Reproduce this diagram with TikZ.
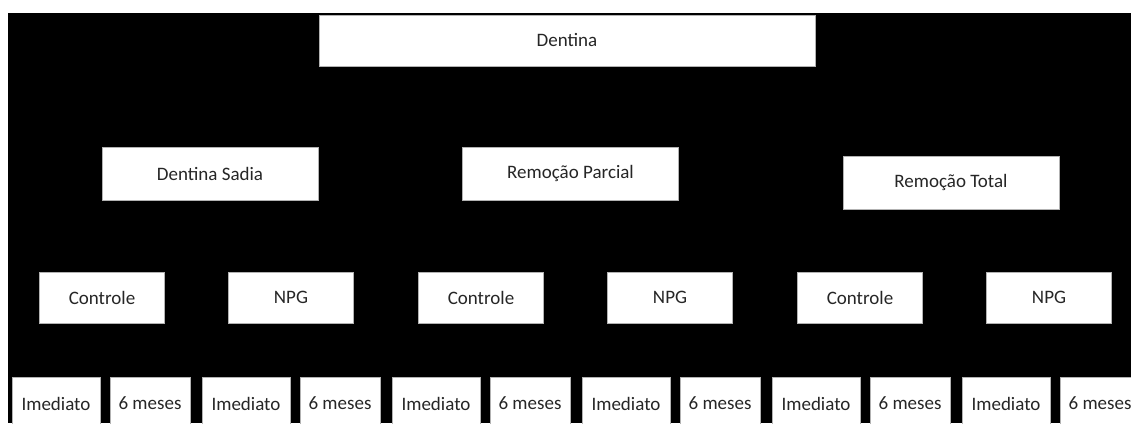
\documentclass[tikz,border=0pt]{standalone}
\usepackage{fontspec}
\setmainfont{Carlito}
\tikzset{
    box/.style = {draw=gray!60, fill=white, rectangle, text=black!85,
        font=\fontsize{19}{22}\selectfont, inner sep=0pt},
    topbox/.style = {box, minimum width=496pt, minimum height=51pt},
    groupbox/.style = {box, minimum width=216pt, minimum height=53pt},
    armbox/.style = {box, minimum width=125pt, minimum height=51pt},
    timebox/.style = {box, minimum height=53pt}
}

\begin{document}
\begin{tikzpicture}[x=1pt,y=-1pt]
        \useasboundingbox (0,0) rectangle (1131,423);
        \fill[black] (8,13) rectangle (1131,423);
        % top
        \node[topbox] (dentina) at (567,40.5) {Dentina};
        % groups
        \node[groupbox] (sadia) at (210,173.5) {Dentina Sadia};
        \node[groupbox] (parcial) at (570.5,173.5) {Remoção Parcial};
        \node[groupbox] (total) at (951,182.5) {Remoção Total};
        % treatments
        \foreach \i in {0,1,2}{
            \node[armbox] (ctrl\i) at ({102+379*\i},297.5) {Controle};
            \node[armbox] (npg\i) at ({291+379*\i},297.5) {NPG};
        }
        % times
        \foreach \i in {0,...,5}{
            \node[timebox, minimum width=88pt] (imed\i) at ({56+190*\i},403.5) {Imediato};
            \node[timebox, minimum width=80pt] (meses\i) at ({150+190*\i},403.5) {6 meses};
        }
\end{tikzpicture}
\end{document}
